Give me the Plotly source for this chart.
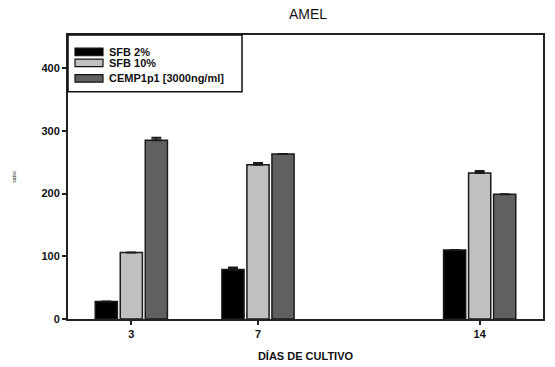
import plotly.graph_objects as go

# Culture days and mean values per condition
days = [3, 7, 14]
sfb2 = [28, 79, 110]
sfb10 = [106, 246, 233]
cemp = [285, 263, 199]

# Standard errors (upper caps); None where no bar is drawn
sfb2_err = [None, 3, None]
sfb10_err = [None, 3, 3]
cemp_err = [4, None, None]

series_names = ["SFB 2%", "SFB 10%", "CEMP1p1 [3000ng/ml]"]
colors = ["#000000", "#c0c0c0", "#606060"]
y_ticks = [0, 100, 200, 300, 400]

bar_w = 0.70
step = 0.79
font = "Liberation Sans, Arial, sans-serif"

fig = go.Figure()
for i, (vals, errs, col) in enumerate(zip([sfb2, sfb10, cemp],
                                          [sfb2_err, sfb10_err, cemp_err],
                                          colors)):
    fig.add_trace(go.Bar(
        x=days, y=vals, width=bar_w, offset=-bar_w / 2 + (i - 1) * step,
        marker=dict(color=col, line=dict(color="#1a1a1a", width=1.5)),
        error_y=dict(type="data", array=errs, symmetric=False, arrayminus=[0] * 3,
                     color="#1a1a1a", thickness=2, width=5),
        name=series_names[i], showlegend=False,
    ))

fig.update_layout(
    width=555, height=367,
    margin=dict(l=68, r=12, t=35, b=48, autoexpand=False),
    paper_bgcolor="white", plot_bgcolor="white",
    barmode="overlay",
    title=dict(text="AMEL", x=0.555, xanchor="center", y=0.962, yanchor="middle",
               font=dict(family=font, size=14, color="#111")),
    font=dict(family=font, color="#111"),
)
fig.update_xaxes(
    range=[1, 16], tickmode="array", tickvals=days, ticktext=[str(d) for d in days],
    ticks="outside", ticklen=4, tickwidth=1.5, tickcolor="#222",
    showline=True, linecolor="#222", linewidth=2, mirror=True,
    showgrid=False, zeroline=False, automargin=False,
    tickfont=dict(size=11, weight="bold"),
    title=dict(text="DÍAS DE CULTIVO", font=dict(size=11, weight="bold"), standoff=13),
)
fig.update_yaxes(
    range=[0, 453], tickmode="array", tickvals=y_ticks,
    ticks="outside", ticklen=4, tickwidth=1.5, tickcolor="#222",
    showline=True, linecolor="#222", linewidth=2, mirror=True,
    showgrid=False, zeroline=False, automargin=False,
    tickfont=dict(size=11, weight="bold"),
    title=dict(text="ratio", font=dict(size=6), standoff=24),
)

# Legend box drawn in the upper-left corner of the plot
fig.add_shape(type="rect", xref="paper", yref="paper",
              x0=0.0, x1=(242 - 68) / 475, y0=1 - (92 - 35) / 285, y1=1.0,
              line=dict(color="#111", width=1.5), fillcolor="white", layer="above")
row_y = [52, 63, 78.5]
for name, col, yc in zip(series_names, colors, row_y):
    yp = 1 - (yc - 35) / 285
    fig.add_shape(type="rect", xref="paper", yref="paper",
                  x0=(75 - 68) / 475, x1=(103 - 68) / 475,
                  y0=yp - 3.8 / 285, y1=yp + 3.8 / 285,
                  line=dict(color="#111", width=1.2), fillcolor=col, layer="above")
    fig.add_annotation(xref="paper", yref="paper", x=(107 - 68) / 475, y=yp,
                       text=name, showarrow=False, xanchor="left", yanchor="middle",
                       font=dict(family=font, size=11, weight="bold", color="#111"))

fig.write_html("out.html")
